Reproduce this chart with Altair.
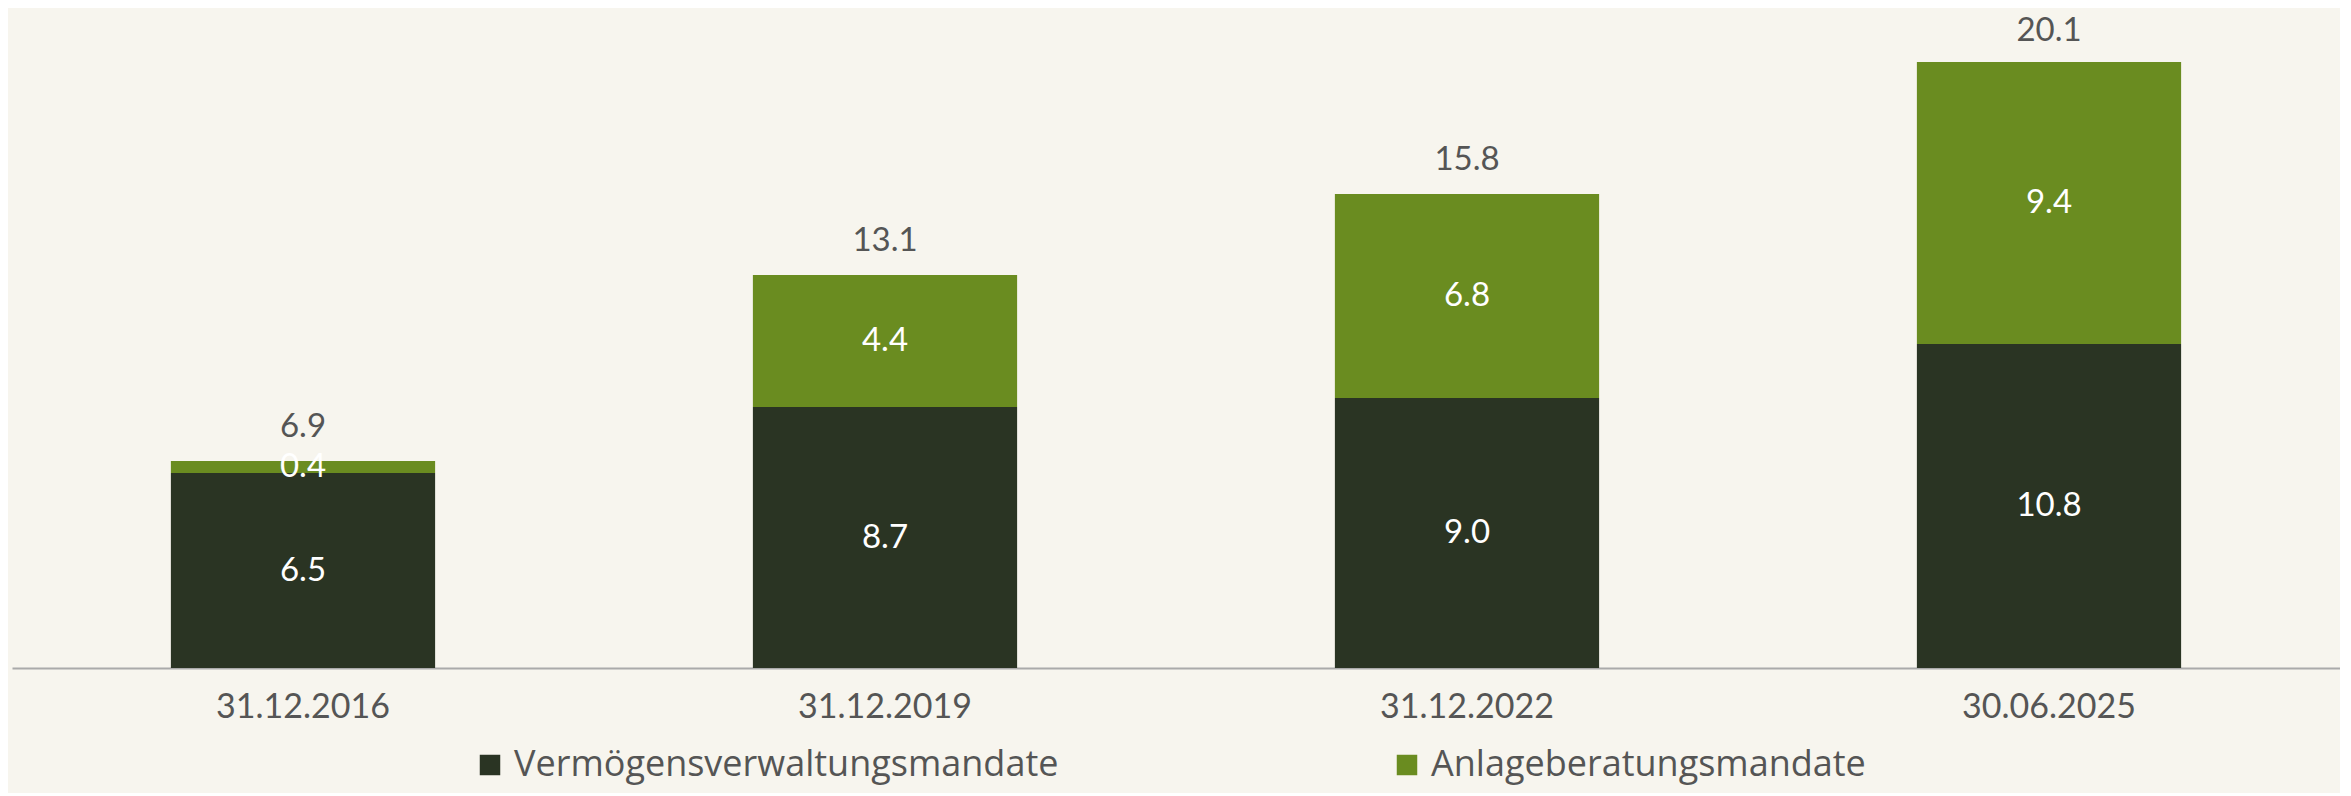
import altair as alt
import pandas as pd

dates = ["31.12.2016", "31.12.2019", "31.12.2022", "30.06.2025"]
verm = [6.5, 8.7, 9.0, 10.8]
anl = [0.4, 4.4, 6.8, 9.4]
totals = [6.9, 13.1, 15.8, 20.1]
series = ["Vermögensverwaltungsmandate", "Anlageberatungsmandate"]
colors = ["#2a3423", "#6a8c20"]

rows = []
for d, a, b in zip(dates, verm, anl):
    rows.append({"date": d, "series": series[0], "value": a, "ord": 0})
    rows.append({"date": d, "series": series[1], "value": b, "ord": 1})
df = pd.DataFrame(rows)
tot = pd.DataFrame({"date": dates, "total": totals})

FONT = "Lato"
xenc = alt.X("date:N", sort=dates, title=None,
             scale=alt.Scale(paddingInner=0.546, paddingOuter=0.273),
             axis=alt.Axis(labelAngle=0, ticks=False, labelPadding=22,
                           labelFontSize=34, labelColor="#555555", labelFont=FONT,
                           domainColor="#aaaaaa", domainWidth=2, grid=False))
yscale = alt.Scale(domain=[0, 22], nice=False)

base = alt.Chart(df)
bars = base.mark_bar(stroke=None).encode(
    x=xenc,
    y=alt.Y("value:Q", stack="zero", scale=yscale, axis=None),
    color=alt.Color("series:N", sort=series,
                    scale=alt.Scale(domain=series, range=colors),
                    legend=alt.Legend(title=None, orient="none", direction="horizontal",
                                      legendX=460, legendY=739,
                                      symbolType="square", symbolSize=420, symbolStrokeWidth=0,
                                      labelFontSize=36, labelFont="Open Sans", labelColor="#555555",
                                      columnPadding=330, labelOffset=6, padding=0,
                                      labelLimit=1000)),
    order=alt.Order("ord:Q"),
)

inner = base.transform_stack(
    stack="value", groupby=["date"], as_=["v0", "v1"], sort=[alt.SortField("ord")]
).transform_calculate(mid="(datum.v0 + datum.v1) / 2").mark_text(
    color="white", fontSize=33, font=FONT, baseline="middle"
).encode(
    x=alt.X("date:N", sort=dates),
    y=alt.Y("mid:Q", scale=yscale),
    text=alt.Text("value:Q", format=".1f"),
)

top = alt.Chart(tot).mark_text(
    color="#555555", fontSize=33, font=FONT, baseline="bottom", dy=-17
).encode(
    x=alt.X("date:N", sort=dates),
    y=alt.Y("total:Q", scale=yscale),
    text=alt.Text("total:Q", format=".1f"),
)

chart = alt.layer(bars, inner, top).properties(
    width=2328, height=660,
    padding={"left": 4, "top": 0, "right": 0, "bottom": 10},
    background="#f7f5ee",
).configure_view(stroke=None)

chart.save("out.html", embed_options={"renderer": "svg", "actions": False})
